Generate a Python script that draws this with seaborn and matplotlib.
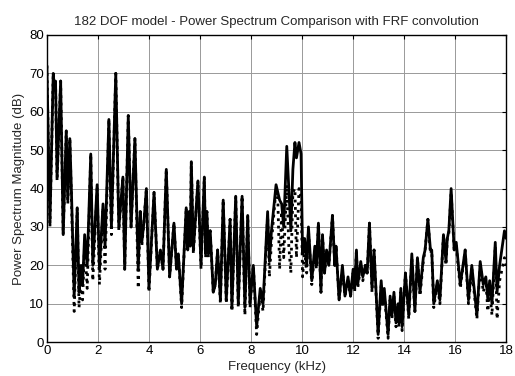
import numpy as np
import pandas as pd
import matplotlib
matplotlib.use("Agg")
import matplotlib.pyplot as plt
import seaborn as sns

# frequenze (kHz) e ampiezze (dB), ai picchi e alle valli
freq = [0.00, 0.12, 0.25, 0.30, 0.34, 0.40, 0.54, 0.64, 0.76, 0.82, 0.90, 0.96,
        1.07, 1.19, 1.26, 1.34, 1.40, 1.48, 1.58, 1.72, 1.80, 1.97, 2.06, 2.20,
        2.28, 2.43, 2.53, 2.70, 2.82, 2.98, 3.05, 3.19, 3.30, 3.45, 3.58, 3.66,
        3.72, 3.80, 3.90, 4.00, 4.20, 4.33, 4.45, 4.55, 4.68, 4.81, 4.98, 5.08,
        5.15, 5.28, 5.46, 5.52, 5.57, 5.62, 5.66, 5.74, 5.92, 6.04, 6.17, 6.22,
        6.27, 6.33, 6.40, 6.52, 6.60, 6.69, 6.80, 6.91, 7.03, 7.18, 7.25, 7.40,
        7.50, 7.65, 7.76, 7.87, 7.96, 8.09, 8.22, 8.36, 8.47, 8.65, 8.72, 8.80,
        8.98, 9.05, 9.12, 9.20, 9.28, 9.40, 9.48, 9.56, 9.64, 9.72, 9.78, 9.88,
        9.96, 10.02, 10.10, 10.18, 10.25, 10.38, 10.50, 10.56, 10.64, 10.74, 10.80, 10.88,
        10.96, 11.05, 11.19, 11.28, 11.33, 11.45, 11.58, 11.68, 11.80, 11.90, 12.00, 12.06,
        12.13, 12.18, 12.30, 12.38, 12.48, 12.55, 12.64, 12.74, 12.82, 12.98, 13.10, 13.16,
        13.22, 13.37, 13.45, 13.52, 13.60, 13.68, 13.76, 13.80, 13.87, 13.92, 14.05, 14.18,
        14.30, 14.42, 14.52, 14.62, 14.75, 14.82, 14.93, 15.03, 15.08, 15.16, 15.30, 15.40,
        15.54, 15.64, 15.69, 15.75, 15.84, 15.96, 16.04, 16.20, 16.39, 16.52, 16.65, 16.85,
        16.98, 17.10, 17.20, 17.28, 17.35, 17.44, 17.57, 17.64, 17.74, 17.93, 18.00]

# spettro del modello (linea continua)
spettro = [72, 31, 70, 66, 68, 43, 68, 28, 55, 37, 53, 40,
           12, 35, 13, 20, 15, 28, 20, 49, 20, 41, 19, 36,
           25, 58, 30, 70, 30, 43, 19, 59, 30, 53, 19, 34,
           26, 31, 40, 14, 39, 19, 24, 19, 45, 17, 31, 19,
           23, 10, 35, 24, 34, 25, 47, 24, 42, 20, 43, 23,
           34, 23, 29, 13, 15, 24, 11, 37, 11, 32, 9, 38,
           10, 38, 9, 33, 10, 20, 4, 14, 10, 34, 21, 29,
           41, 39, 37, 36, 30, 51, 40, 29, 45, 52, 48, 52,
           49, 23, 27, 20, 30, 16, 25, 20, 31, 13, 28, 18,
           24, 20, 33, 20, 25, 11, 20, 12, 17, 12, 19, 14,
           24, 15, 21, 17, 20, 18, 31, 14, 24, 2, 16, 10,
           14, 2, 12, 7, 13, 5, 10, 5, 14, 4, 18, 7,
           23, 8, 22, 13, 22, 24, 32, 24, 24, 10, 16, 11,
           28, 21, 27, 29, 40, 24, 26, 15, 24, 11, 20, 7,
           21, 15, 17, 11, 16, 10, 26, 13, 20, 29, 27]

# spettro con convoluzione FRF (linea punteggiata)
spettro_frf = [72, 30, 70, 66, 68, 42, 68, 28, 55, 36, 53, 38,
               8, 35, 9, 16, 11, 26, 14, 49, 16, 40, 15, 35,
               19, 58, 28, 70, 29, 43, 19, 59, 30, 53, 14, 34,
               25, 31, 40, 13, 39, 19, 24, 19, 45, 17, 31, 19,
               23, 9, 35, 24, 34, 25, 47, 23, 42, 19, 43, 22,
               34, 22, 29, 13, 15, 24, 10, 37, 10, 32, 8, 38,
               9, 38, 7, 33, 9, 20, 2, 13, 8, 33, 17, 26,
               40, 37, 19, 34, 22, 41, 25, 18, 39, 40, 22, 40,
               38, 17, 24, 18, 29, 15, 24, 19, 31, 13, 28, 18,
               23, 20, 33, 20, 25, 11, 19, 12, 16, 12, 18, 13,
               24, 14, 20, 16, 20, 18, 31, 13, 24, 1, 15, 9,
               13, 1, 11, 6, 12, 4, 9, 4, 13, 3, 18, 6,
               22, 8, 22, 12, 21, 24, 32, 23, 24, 9, 15, 10,
               28, 20, 27, 28, 39, 24, 25, 14, 24, 10, 19, 6,
               20, 13, 16, 8, 14, 7, 25, 6, 16, 22, 20]

df = pd.DataFrame({'freq': freq, 'spettro': spettro, 'spettro_frf': spettro_frf})

sns.set_style('white')
plt.rcParams['font.family'] = ['Liberation Sans', 'DejaVu Sans']

fig = plt.figure(figsize=(5.15, 3.76), dpi=100)
ax = fig.add_axes([0.091, 0.090, 0.892, 0.817])

sns.lineplot(data=df, x='freq', y='spettro', color='black', linewidth=2, ax=ax)
sns.lineplot(data=df, x='freq', y='spettro_frf', color='black', linewidth=2,
             linestyle=':', ax=ax)

ax.set_xlim(0, 18)
ax.set_ylim(0, 80)
ax.set_xticks(range(0, 19, 2))
ax.set_yticks(range(0, 81, 10))
ax.grid(True, color='#999999', linewidth=0.7)
ax.tick_params(direction='in', length=3, top=True, right=True, labelsize=9.5,
               colors='black', pad=2)
for s in ax.spines.values():
    s.set_color('black')
    s.set_linewidth(1)

ax.set_xlabel('Frequency (kHz)', fontsize=9.5, labelpad=3)
ax.set_ylabel('Power Spectrum Magnitude (dB)', fontsize=9.5, labelpad=3)
ax.set_title('182 DOF model - Power Spectrum Comparison with FRF convolution',
             fontsize=9.5, pad=7)

fig.savefig('out.png', dpi=100)
